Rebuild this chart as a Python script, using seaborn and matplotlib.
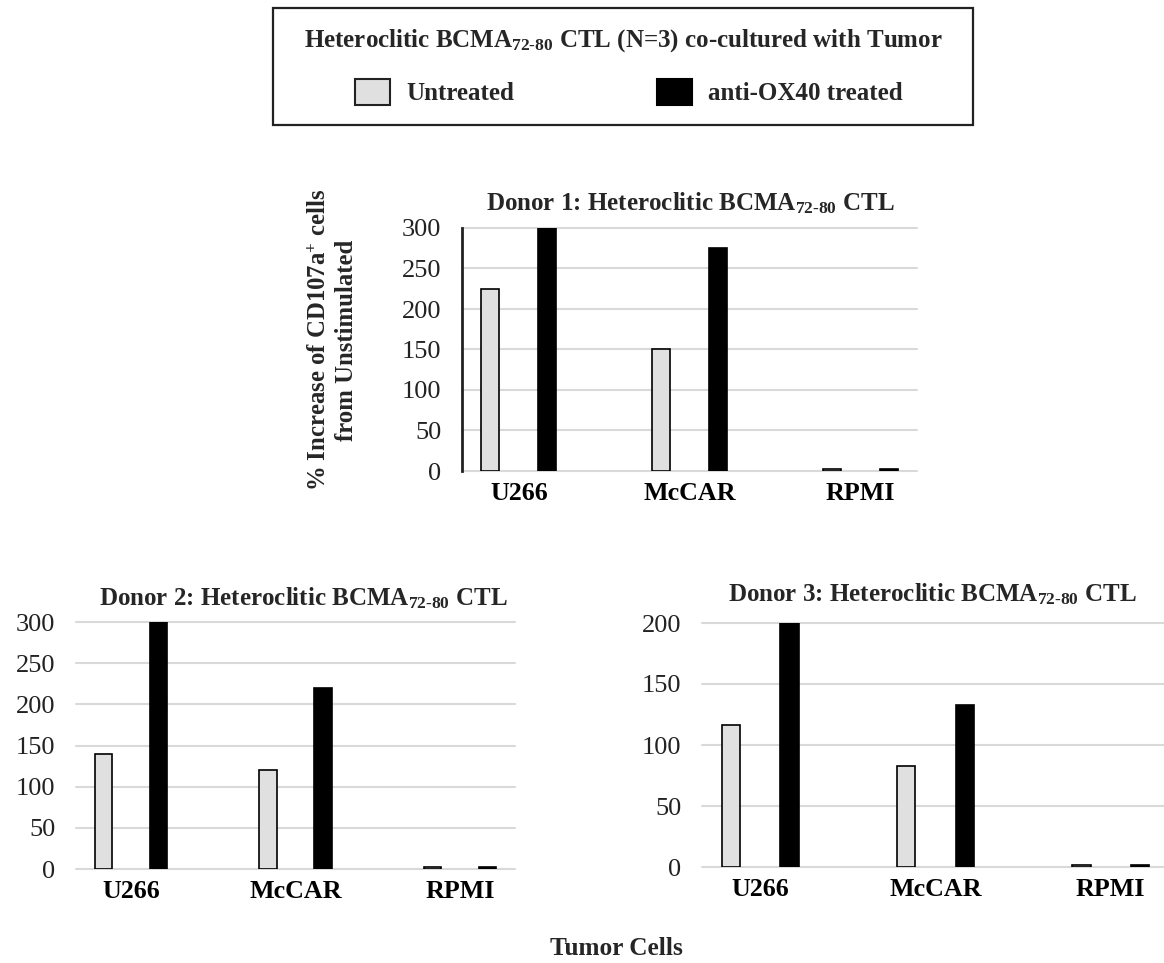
import matplotlib
matplotlib.use("Agg")
import matplotlib.pyplot as plt
from matplotlib.patches import Patch, Rectangle
import pandas as pd
import seaborn as sns

# Tumor cell lines and treatment groups
cells = ["U266", "McCAR", "RPMI"]
treatments = ["Untreated", "anti-OX40 treated"]

# % increase of CD107a+ cells from unstimulated, per donor
donor1_untreated = [225, 150, 3]
donor1_treated = [300, 275, 3]
donor2_untreated = [140, 120, 3]
donor2_treated = [300, 220, 3]
donor3_untreated = [116, 83, 2]
donor3_treated = [200, 133, 2]

y_max = [300, 300, 200]
donor_titles = [
    "Donor 1: Heteroclitic BCMA$_{72‐80}$ CTL",
    "Donor 2: Heteroclitic BCMA$_{72‐80}$ CTL",
    "Donor 3: Heteroclitic BCMA$_{72‐80}$ CTL",
]
legend_title = "Heteroclitic BCMA$_{72‐80}$ CTL (N=3) co-cultured with Tumor"
y_label = "% Increase of CD107a$^{+}$ cells\nfrom Unstimulated"
x_label = "Tumor Cells"

LIGHT = "#e0e0e0"
GRID = "#d9d9d9"

sns.set_theme(style="white")
plt.rcParams["font.family"] = ["Liberation Serif", "DejaVu Serif"]
plt.rcParams["mathtext.fontset"] = "custom"
plt.rcParams["mathtext.rm"] = "Liberation Serif:bold"
plt.rcParams["mathtext.bf"] = "Liberation Serif:bold"
plt.rcParams["mathtext.it"] = "Liberation Serif:bold"
plt.rcParams["mathtext.default"] = "bf"

W, H = 1164, 963
fig = plt.figure(figsize=(W / 100, H / 100), dpi=100)


def px_axes(left, right, top, bottom):
    return fig.add_axes([left / W, 1 - bottom / H, (right - left) / W, (bottom - top) / H])


def fx(x):
    return x / W


def fy(y):
    return 1 - y / H


TICK_FS = 19
CAT_FS = 18.7
TITLE_FS = 18
BAR_W = 0.105


def draw_panel(ax, untreated, treated, ymax, left_spine):
    df = pd.DataFrame({
        "cell": cells * 2,
        "treatment": [treatments[0]] * len(cells) + [treatments[1]] * len(cells),
        "value": list(untreated) + list(treated),
    })
    sns.barplot(data=df, x="cell", y="value", hue="treatment", order=cells,
                hue_order=treatments, palette=[LIGHT, "black"], saturation=1,
                width=0.667, edgecolor="black", linewidth=1.2, errorbar=None,
                legend=False, ax=ax, zorder=3)
    # narrow bars, keeping each centred on its dodge position
    for bar in ax.patches:
        cx = bar.get_x() + bar.get_width() / 2
        bar.set_x(cx - BAR_W / 2)
        bar.set_width(BAR_W)
    ax.set_xlim(-1 / 3, 2 + 1 / 3)
    ax.set_ylim(0, ymax)
    ax.set_yticks(range(0, ymax + 1, 50))
    ax.yaxis.grid(True, color=GRID, linewidth=1.5, zorder=0)
    ax.set_axisbelow(True)
    for s in ["top", "right", "bottom", "left"]:
        ax.spines[s].set_visible(False)
    if left_spine:
        ax.spines["left"].set_visible(True)
        ax.spines["left"].set_color("#222222")
        ax.spines["left"].set_linewidth(2)
    ax.tick_params(axis="y", length=0, pad=15, labelsize=TICK_FS, colors="#222222")
    ax.tick_params(axis="x", length=0, pad=8, labelsize=CAT_FS, colors="black")
    for lab in ax.get_xticklabels():
        lab.set_fontweight("bold")
    ax.set_xlabel("")
    ax.set_ylabel("")
    for gl in ax.get_ygridlines():
        gl.set_clip_on(False)


ax1 = px_axes(462, 917, 228, 471)
ax2 = px_axes(76, 515, 622, 869)
ax3 = px_axes(702, 1169, 623, 867)

draw_panel(ax1, donor1_untreated, donor1_treated, y_max[0], True)
draw_panel(ax2, donor2_untreated, donor2_treated, y_max[1], False)
draw_panel(ax3, donor3_untreated, donor3_treated, y_max[2], False)

# panel titles
fig.text(fx(690), fy(203), donor_titles[0], ha="center", va="center",
         fontsize=TITLE_FS, fontweight="bold")
fig.text(fx(303), fy(598), donor_titles[1], ha="center", va="center",
         fontsize=TITLE_FS, fontweight="bold")
fig.text(fx(932), fy(594), donor_titles[2], ha="center", va="center",
         fontsize=TITLE_FS, fontweight="bold")

# shared axis labels
fig.text(fx(333), fy(340), y_label, ha="center", va="center", rotation=90,
         fontsize=17.8, fontweight="bold", linespacing=1.2, multialignment="center")
fig.text(fx(616), fy(948), x_label, ha="center", va="center",
         fontsize=18.2, fontweight="bold")

# legend box
fig.add_artist(Rectangle((fx(273), fy(125)), (973 - 273) / W, (125 - 8) / H,
                         transform=fig.transFigure, facecolor="white",
                         edgecolor="#222222", linewidth=1.6, zorder=0))
fig.text(fx(623.5), fy(41), legend_title, ha="center", va="center",
         fontsize=18, fontweight="bold")
handles = [Patch(facecolor=LIGHT, edgecolor="#222222", linewidth=1.5),
           Patch(facecolor="black", edgecolor="black", linewidth=1.5)]
fig.legend(handles, treatments, loc="center left",
           bbox_to_anchor=(fx(355), fy(92)), ncol=2, frameon=False,
           prop={"size": 18, "weight": "bold"}, handlelength=1.4,
           handleheight=1.28, handletextpad=0.65, columnspacing=5.7,
           borderpad=0, borderaxespad=0)

fig.savefig("out.png", dpi=100)
